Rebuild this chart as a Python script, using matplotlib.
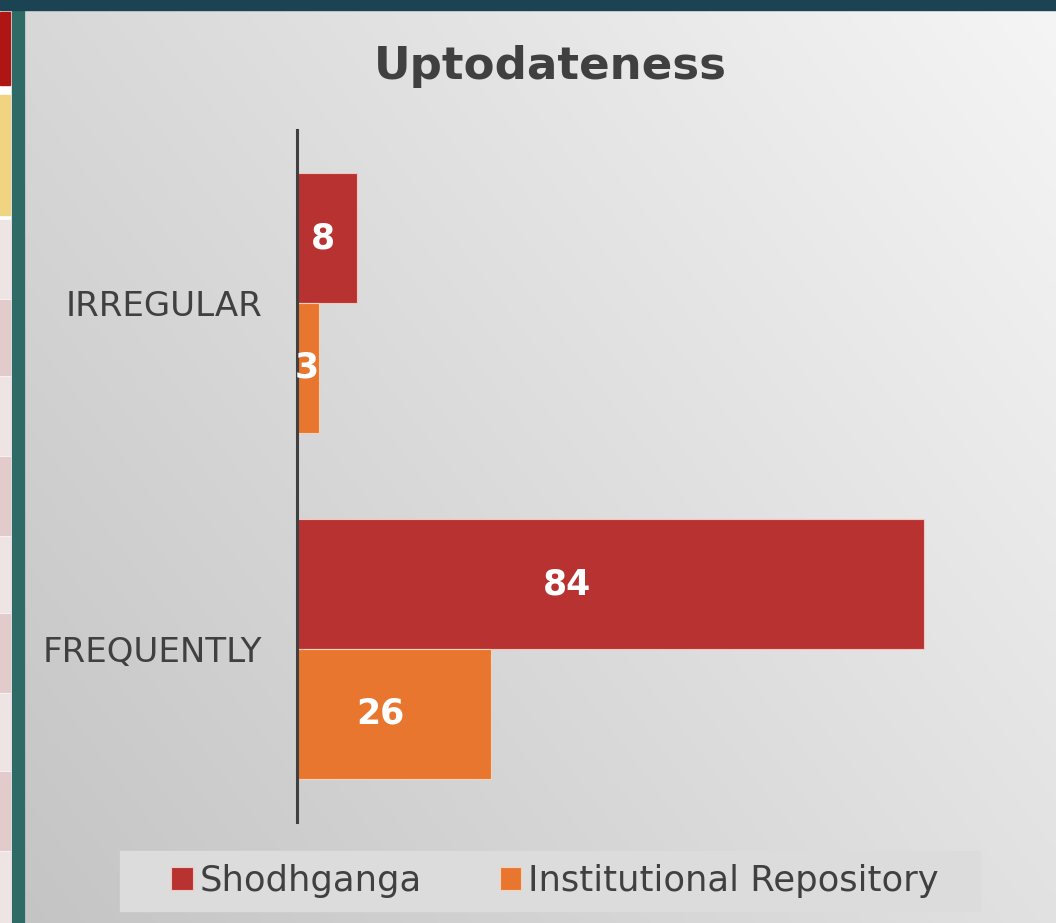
import numpy as np
import matplotlib
matplotlib.use("Agg")
import matplotlib.pyplot as plt
from matplotlib.patches import Rectangle

categories = ["FREQUENTLY", "IRREGULAR"]
series_names = ["Shodhganga", "Institutional Repository"]
shodhganga = [84, 8]
institutional = [26, 3]
title = "Uptodateness"

RED = "#B83232"
ORANGE = "#E8762F"
TXT = "#404040"

plt.rcParams['font.family'] = ['DejaVu Sans']

W, H = 1056, 923
fig = plt.figure(figsize=(W / 100, H / 100), dpi=100)

# background gradient panel
bg = fig.add_axes([24 / W, 0, 1 - 24 / W, 1 - 10 / H])
yy, xx = np.mgrid[0:1:200j, 0:1:200j]
t = (xx * 0.6 + (1 - yy) * 0.4)
g = 0.77 + 0.19 * t
img = np.dstack([g, g, g])
bg.imshow(img, aspect='auto', extent=[0, 1, 0, 1], origin='upper', interpolation='bilinear')
bg.set_axis_off()

# decorative left strip and top bar
fig.patches.append(Rectangle((0, 0), 24 / W, 1, transform=fig.transFigure, color="white", zorder=0))
fig.patches.append(Rectangle((12 / W, 0), 12 / W, 1, transform=fig.transFigure, color="#2F6A66", zorder=1))
fig.patches.append(Rectangle((0, 1 - 10 / H), 1, 10 / H, transform=fig.transFigure, color="#1B4352", zorder=1))
cells = [(12, 85, "#B01515"), (95, 215, "#F0D482")]
edges = [218, 298, 375, 455, 535, 612, 692, 770, 850, 923]
for i in range(len(edges) - 1):
    cells.append((edges[i] + 2, edges[i + 1], "#EFE4E4" if i % 2 == 0 else "#E3CACB"))
for y0, y1, c in cells:
    fig.patches.append(Rectangle((0, 1 - y1 / H), 10 / W, (y1 - y0) / H,
                                 transform=fig.transFigure, color=c, zorder=2))

# main chart
ax = fig.add_axes([297 / W, 1 - 822 / H, (1000 - 297) / W, (822 - 130) / H])
ax.patch.set_alpha(0)
y = np.arange(len(categories))
h = 0.375
ax.barh(y + h / 2, shodhganga, height=h, color=RED, edgecolor="#F0C8C0", linewidth=0.8, label=series_names[0])
ax.barh(y - h / 2, institutional, height=h, color=ORANGE, edgecolor="#F6D3B8", linewidth=0.8, label=series_names[1])
ax.set_xlim(0, 94.2)
ax.set_ylim(-0.5, 1.5)
for s in ["top", "right", "bottom"]:
    ax.spines[s].set_visible(False)
ax.spines["left"].set_color(TXT)
ax.spines["left"].set_linewidth(2.2)
ax.set_xticks([])
ax.set_yticks(y)
ax.set_yticklabels(categories, fontsize=24.5, color=TXT)
ax.tick_params(axis='y', length=0, pad=25)

for vals, off in [(shodhganga, h / 2), (institutional, -h / 2)]:
    for i, v in enumerate(vals):
        ax.text(v * 0.43, i + off, str(v), ha='center', va='center', color='white',
                fontsize=25, fontweight='bold')

fig.text(550 / W, 1 - 67 / H, title, ha='center', va='center', fontsize=32.5,
         fontweight='bold', color=TXT)

# legend box
fig.patches.append(Rectangle((120 / W, 1 - 911 / H), 860 / W, 60 / H, transform=fig.transFigure,
                             color="#DCDCDC", zorder=3))
leg = fig.legend(loc='center', bbox_to_anchor=(555 / W, 1 - 881 / H), ncol=2, frameon=False,
                 fontsize=25.5, handlelength=0.6, handleheight=0.6, handletextpad=0.2,
                 columnspacing=2.2, labelcolor=TXT)
leg.set_zorder(5)

fig.savefig("out.png", dpi=100)
